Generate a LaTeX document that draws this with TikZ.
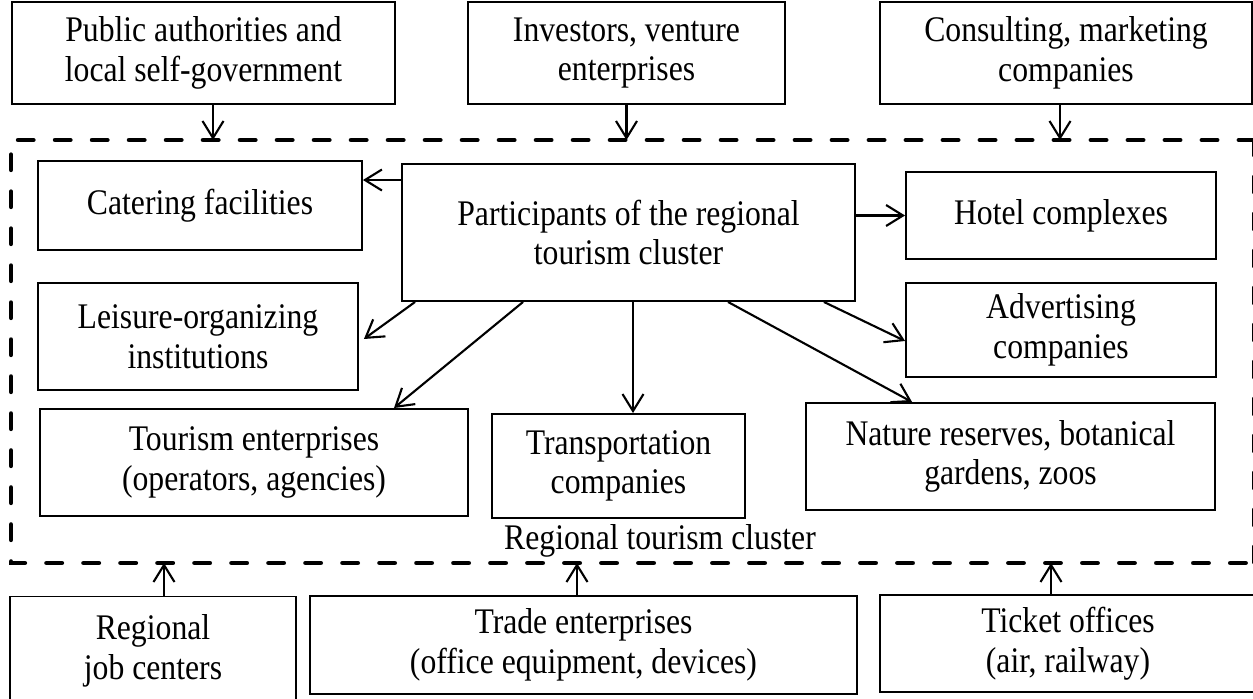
\documentclass[tikz,border=0pt]{standalone}
\usepackage{fontspec}
\setmainfont{Liberation Serif}[FakeStretch=0.88]
\usetikzlibrary{arrows.meta,
                positioning
            }

\tikzset{
    box/.style={draw, line width=1.1pt, align=center, inner sep=2pt,
                font=\fontsize{20.5}{22.5}\selectfont},
    arr/.style={line width=1.2pt, -{Straight Barb[length=0.34cm, width=0.42cm]}},
    frame/.style={line width=2.8pt, line cap=round, dash pattern=on 0.3cm off 0.44cm}
}

\begin{document}
\begin{tikzpicture}[x=0.02cm, y=-0.02cm]
            \useasboundingbox (0,0) rectangle (1253,699);

            % dashed border of the cluster
            \coordinate (fnw) at (11,140);
            \coordinate (fse) at (1254,563);
            \draw[frame] (fse |- fnw) -- (fnw) -- (fnw |- fse) -- (fse);
            \draw[frame] (fse |- fnw) -- (fse);

            % outer participants
            \node[box, minimum width=7.66cm, minimum height=2.04cm] (pa) at (203.5,53) {Public authorities and\\local self-government};
            \node[box, minimum width=6.34cm, minimum height=2.04cm] (inv) at (626.5,53) {Investors, venture\\enterprises};
            \node[box, minimum width=7.44cm, minimum height=2.04cm] (cons) at (1066,53) {Consulting, marketing\\companies};

            \node[box, minimum width=5.72cm, minimum height=2.18cm] (job) at (153,651) {Regional\\job centers};
            \node[box, minimum width=10.94cm, minimum height=1.96cm] (trade) at (583.5,645) {Trade enterprises\\(office equipment, devices)};
            \node[box, minimum width=7.52cm, minimum height=1.94cm] (ticket) at (1068,643.5) {Ticket offices\\(air, railway)};

            % inside the cluster
            \node[box, minimum width=9.06cm, minimum height=2.74cm] (part) at (628.5,232.5) {Participants of the regional\\tourism cluster};
            \node[box, minimum width=6.48cm, minimum height=1.78cm] (cater) at (200,205.5) {Catering facilities};
            \node[box, minimum width=6.2cm, minimum height=1.74cm] (hotel) at (1061,215.5) {Hotel complexes};
            \node[box, minimum width=6.4cm, minimum height=2.14cm] (leis) at (198,336.5) {Leisure-organizing\\institutions};
            \node[box, minimum width=6.2cm, minimum height=1.88cm] (adv) at (1061,330) {Advertising\\companies};
            \node[box, minimum width=8.56cm, minimum height=2.14cm] (tour) at (254,462.5) {Tourism enterprises\\(operators, agencies)};
            \node[box, minimum width=5.06cm, minimum height=2.08cm] (trans) at (618.5,466) {Transportation\\companies};
            \node[box, minimum width=8.18cm, minimum height=2.14cm] (nat) at (1010.5,456.5) {Nature reserves, botanical\\gardens, zoos};

            \node[font=\fontsize{20.5}{22.5}\selectfont] (lbl) at (660,541) {Regional tourism cluster};

            % arrows into the cluster
            \draw[arr] ([xshift=0.19cm]pa.south) -- ([xshift=0.19cm]pa.south |- fnw);
            \draw[arr] (inv.south) -- (inv.south |- fnw);
            \draw[arr] ([xshift=-0.12cm]cons.south) -- ([xshift=-0.12cm]cons.south |- fnw);
            \draw[arr] ([xshift=0.22cm]job.north) -- ([xshift=0.22cm]job.north |- fse);
            \draw[arr] ([xshift=-0.13cm]trade.north) -- ([xshift=-0.13cm]trade.north |- fse);
            \draw[arr] ([xshift=-0.34cm]ticket.north) -- ([xshift=-0.34cm]ticket.north |- fse);

            % arrows from the centre
            \draw[arr] ([yshift=1.05cm]part.west) -- ([yshift=1.05cm]part.west -| cater.east);
            \draw[arr] (part.east |- hotel.west) -- (hotel.west);
            \draw[arr] ([xshift=0.28cm]part.south west) -- ([xshift=0.1cm, yshift=-0.05cm]leis.east);
            \draw[arr] ([xshift=2.44cm]part.south west) -- ([xshift=2.8cm]tour.north);
            \draw[arr] ([xshift=0.09cm]part.south) -- ([xshift=0.09cm]part.south |- trans.north);
            \draw[arr] ([xshift=6.54cm]part.south west) -- ([xshift=2.14cm]nat.north west);
            \draw[arr] ([xshift=-0.64cm]part.south east) -- ([yshift=-0.22cm]adv.west);
        \end{tikzpicture}
\end{document}
